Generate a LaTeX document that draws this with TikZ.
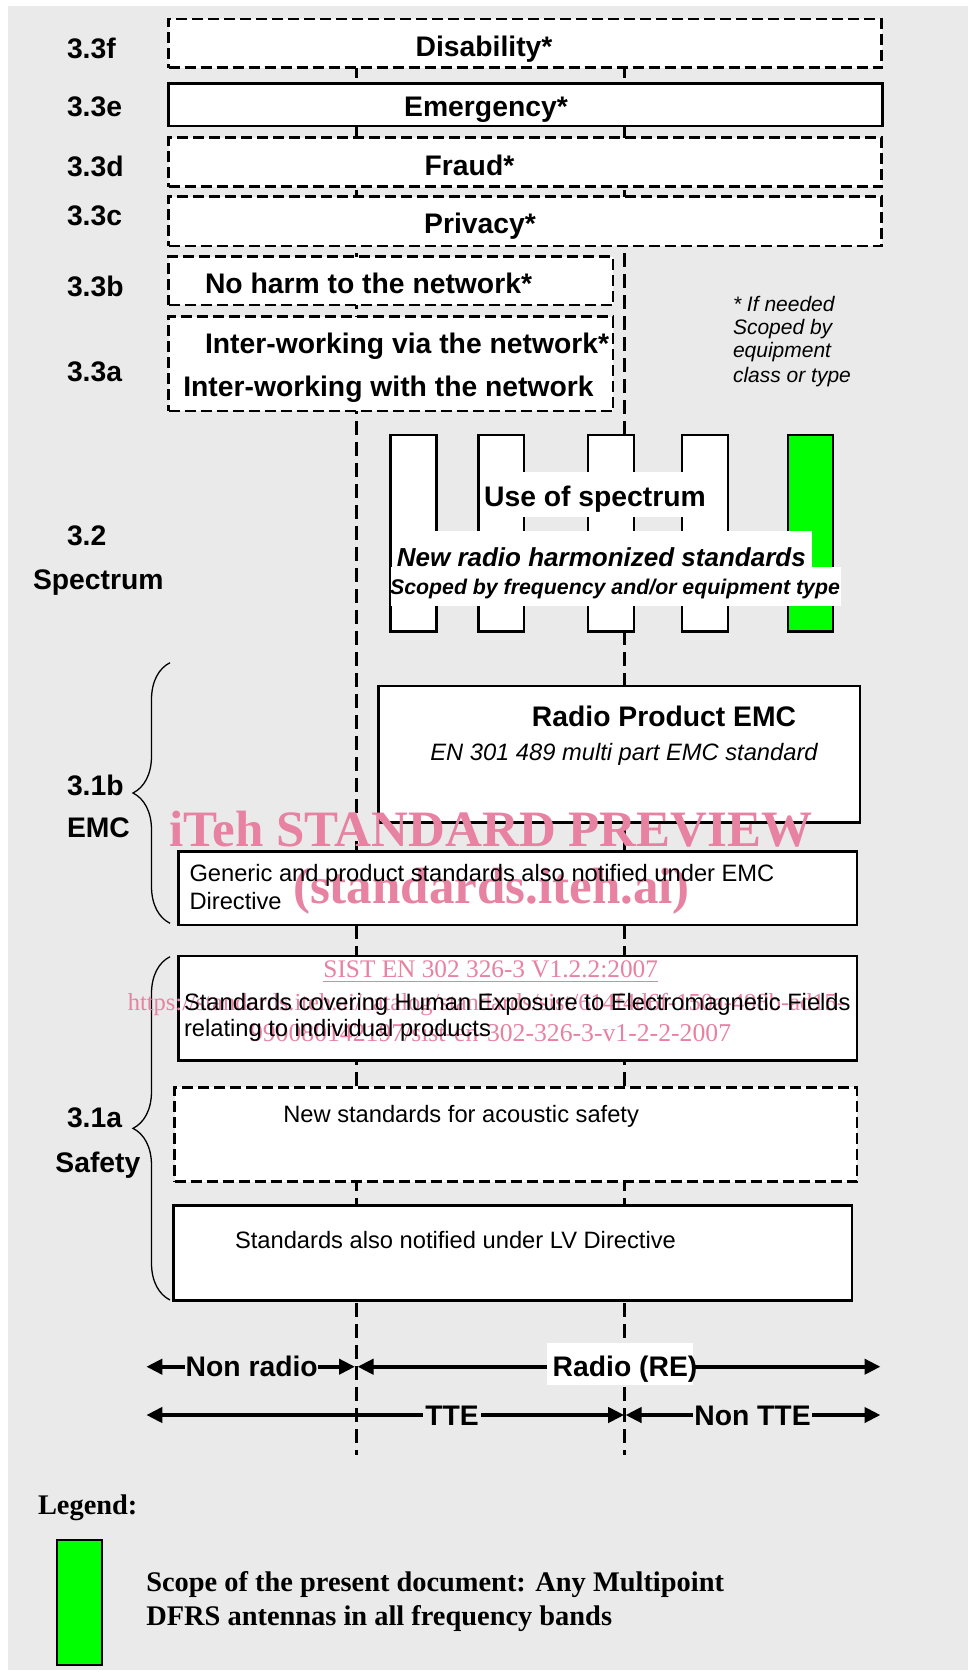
\documentclass[tikz,border=0pt]{standalone}
\usepackage{fontspec}
\setmainfont{Liberation Sans}
\newfontfamily\tmsfont{Liberation Serif}
\usetikzlibrary{arrows.meta,decorations.pathreplacing}
\definecolor{pagegrey}{HTML}{EAEAEA}
\definecolor{scopegreen}{HTML}{00FF00}
\definecolor{wmpink}{RGB}{231,130,162}

\begin{document}
\begin{tikzpicture}[x=1pt,y=-1pt,
  every node/.style={inner sep=0pt, outer sep=0pt},
  box/.style={draw=black, line width=2.6pt, fill=white, anchor=north west},
  dbox/.style={box, dash pattern=on 11pt off 5pt},
  patch/.style={fill=white, anchor=north west},
  txt/.style={text height=#1, text depth=0pt},
  hd/.style={txt=20.4pt, font=\fontsize{28.3}{32}\selectfont\bfseries},
  rg/.style={txt=17pt, font=\fontsize{23.7}{26}\selectfont},
  note/.style={txt=15.2pt, anchor=west, font=\fontsize{21}{24}\selectfont\itshape},
  lgd/.style={txt=18.8pt, anchor=west, font=\tmsfont\fontsize{28.4}{32}\selectfont\bfseries},
  wmbig/.style={txt=30.6pt, text=wmpink, font=\tmsfont\fontsize{51}{51}\selectfont\bfseries},
  wmsmall/.style={txt=17.4pt, text=wmpink},
  arrlbl/.style={hd, fill=pagegrey, inner xsep=0.5pt, inner ysep=2pt},
  vline/.style={line width=3pt, dash pattern=on 14pt off 7pt},
  dimline/.style={line width=4pt, <->},
  brc/.style={line width=1.3pt, decorate, decoration={brace, amplitude=37pt}},
  >={Triangle[length=16pt,width=15pt]}
]
% page and grey panel
\useasboundingbox (0,0) rectangle (968,1672);
\fill[white] (0,0) rectangle (968,1672);
\fill[pagegrey] (7.5,6) rectangle (968,1670);

% the two dashed boundary lines (radio / TTE)
\coordinate (v1top) at (356,43);
\coordinate (v1bot) at (356,1455);
\coordinate (v2top) at (624.7,43);
\coordinate (v2bot) at (624.7,1455);
\draw[vline] (v1top) -- (v1bot);
\draw[vline] (v2top) -- (v2bot);

% section 3.3 boxes
\node[dbox, minimum width=713pt, minimum height=48.7pt] (dis) at (168.5,19) {};
\node[box,  minimum width=714.2pt, minimum height=42.7pt] (emg) at (168.5,83.3) {};
\node[dbox, minimum width=713pt, minimum height=49pt] (fra) at (168.5,137.7) {};
\node[dbox, minimum width=713pt, minimum height=49.3pt] (pri) at (168.5,196.7) {};
\node[dbox, minimum width=444.5pt, minimum height=48.3pt] (noh) at (168.5,256.7) {};
\node[dbox, minimum width=444.5pt, minimum height=94.3pt] (itw) at (168.5,316.7) {};

% spectrum bars
\node[box, minimum width=45.7pt, minimum height=196.7pt] (bar1) at (390.7,435) {};
\node[box, minimum width=45.6pt, minimum height=196.7pt] (bar2) at (478.4,435) {};
\node[box, minimum width=46pt, minimum height=196.7pt] (bar3) at (588,435) {};
\node[box, minimum width=45.8pt, minimum height=196.7pt] (bar4) at (682,435) {};
\node[box, fill=scopegreen, minimum width=45pt, minimum height=196.7pt] (bar5) at (788,435) {};
\node[patch, minimum width=162pt, minimum height=45pt] (sp1) at (521.5,471.7) {};
\node[patch, minimum width=376.7pt, minimum height=35.7pt] (sp2) at (435,531) {};
\node[patch, minimum width=450pt, minimum height=39pt] (sp3) at (390.7,566.7) {};

% EMC and safety boxes
\node[box,  minimum width=481.6pt, minimum height=136.3pt] (rpe) at (378.4,686) {};
\node[box,  minimum width=678.4pt, minimum height=73.3pt] (gen) at (178.4,851.7) {};
\node[box,  minimum width=678.4pt, minimum height=104.7pt] (hum) at (178.4,956) {};
\node[dbox, minimum width=682.1pt, minimum height=94.4pt] (aco) at (174.7,1087.3) {};
\node[box,  minimum width=678.4pt, minimum height=95pt] (lvd) at (173.5,1205.7) {};

% braces
\draw[brc] (170,923.3) -- (170,662.7);
\draw[brc] (170,1300) -- (170,956.7);

% scope arrows
\coordinate (a1l) at (146.3,1366.7);
\coordinate (a1m) at (355,1366.7);
\coordinate (a1n) at (357.5,1366.7);
\coordinate (a1r) at (880.5,1366.7);
\coordinate (a2l) at (146.3,1415);
\coordinate (a2m) at (624.2,1415);
\coordinate (a2n) at (625.5,1415);
\coordinate (a2r) at (880.5,1415);
\draw[dimline] (a1l) -- (a1m);
\draw[dimline] (a1n) -- (a1r);
\draw[dimline] (a2l) -- (a2m);
\draw[dimline] (a2n) -- (a2r);
\node[patch, minimum width=146pt, minimum height=42pt] (rep) at (547,1343) {};

% legend swatch
\node[box, line width=2pt, fill=scopegreen, minimum width=45.1pt, minimum height=125pt] (leg) at (56.8,1540) {};

% watermark
\node[wmbig] (wm1) at (490.7,830.7) {iTeh STANDARD PREVIEW};
\node[wmbig] (wm2) at (491.5,888) {(standards.iteh.ai)};
\node[wmsmall, font=\tmsfont\fontsize{25.3}{28}\selectfont] (wm3) at (490.7,969) {SIST EN 302 326-3 V1.2.2:2007};
\draw[wmpink, line width=1.3pt] (wm3.base west) ++(0,3.5) coordinate (ul1) -- (ul1 -| wm3.base east);
\node[wmsmall, anchor=west, font=\tmsfont\fontsize{24.5}{28}\selectfont] (wm4) at (127.8,1001.7) {https://standards.iteh.ai/catalog/standards/sist/614f4d6f-150a-498b-ad15-};
\node[wmsmall, anchor=west, font=\tmsfont\fontsize{25.7}{28}\selectfont] (wm5) at (250,1033) {990080142197/sist-en-302-326-3-v1-2-2-2007};

% row labels
\node[hd, anchor=west] (l33f) at (67,48.3) {3.3f};
\node[hd, anchor=west] (l33e) at (67,106.7) {3.3e};
\node[hd, anchor=west] (l33d) at (67,166.7) {3.3d};
\node[hd, anchor=west] (l33c) at (67,215) {3.3c};
\node[hd, anchor=west] (l33b) at (67,286.7) {3.3b};
\node[hd, anchor=west] (l33a) at (67,371.7) {3.3a};
\node[hd, anchor=west] (l32) at (67,535.5) {3.2};
\node[hd, anchor=west] (lspec) at (33,579.5) {Spectrum};
\node[hd, anchor=west] (l31b) at (67,785.5) {3.1b};
\node[hd, anchor=west] (lemc) at (67,827.5) {EMC};
\node[hd, anchor=west] (l31a) at (67,1117.5) {3.1a};
\node[hd, anchor=west] (lsaf) at (55.4,1162) {Safety};

% box texts
\node[hd] (tdis) at (484,46.5) {Disability*};
\node[hd] (temg) at (486,106) {Emergency*};
\node[hd] (tfra) at (469.5,165) {Fraud*};
\node[hd] (tpri) at (480,223.5) {Privacy*};
\node[hd, anchor=west] (tnoh) at (205,283.3) {No harm to the network*};
\node[hd, anchor=west] (titw1) at (205,343.3) {Inter-working via the network*};
\node[hd, anchor=west] (titw2) at (183.3,386.7) {Inter-working with the network};

\node[note] (n1) at (733,304) {* If needed};
\node[note] (n2) at (733,326.7) {Scoped by};
\node[note] (n3) at (733,350) {equipment};
\node[note] (n4) at (733,375) {class or type};

\node[hd] (tsp1) at (595,496.7) {Use of spectrum};
\node[txt=18.8pt, font=\fontsize{26}{28}\selectfont\bfseries\itshape] (tsp2) at (601.3,556.7) {New radio harmonized standards};
\node[txt=15.4pt, font=\fontsize{21.3}{24}\selectfont\bfseries\itshape] (tsp3) at (615,586.7) {Scoped by frequency and/or equipment type};

\node[hd] (trpe1) at (664,716.7) {Radio Product EMC};
\node[rg, font=\fontsize{23.7}{26}\selectfont\itshape] (trpe2) at (624,751.7) {EN 301 489 multi part EMC standard};

\node[rg, anchor=west] (tgen1) at (189.5,873.3) {Generic and product standards also notified under EMC};
\node[rg, anchor=west] (tgen2) at (189.5,900.7) {Directive};
\node[rg, anchor=west] (thum1) at (184,1001.7) {Standards covering Human Exposure to Electromagnetic Fields};
\node[rg, anchor=west] (thum2) at (184,1027.7) {relating to individual products};
\node[rg, anchor=west] (taco) at (283.3,1114.3) {New standards for acoustic safety};
\node[rg, anchor=west] (tlvd) at (235,1240) {Standards also notified under LV Directive};

% arrow labels
\node[arrlbl] (tnr) at (251.7,1366.7) {Non radio};
\node[hd] (tre) at (625,1366.7) {Radio (RE)};
\node[arrlbl, inner xsep=2pt] (ttte) at (452,1415) {TTE};
\node[arrlbl, inner xsep=1pt] (tntte) at (752.5,1415) {Non TTE};

% legend
\node[lgd] (tleg) at (38,1505) {Legend:};
\node[lgd] (tleg1) at (146.3,1581.7) {Scope of the present document: Any Multipoint};
\node[lgd] (tleg2) at (146.3,1616) {DFRS antennas in all frequency bands};
\end{tikzpicture}
\end{document}
